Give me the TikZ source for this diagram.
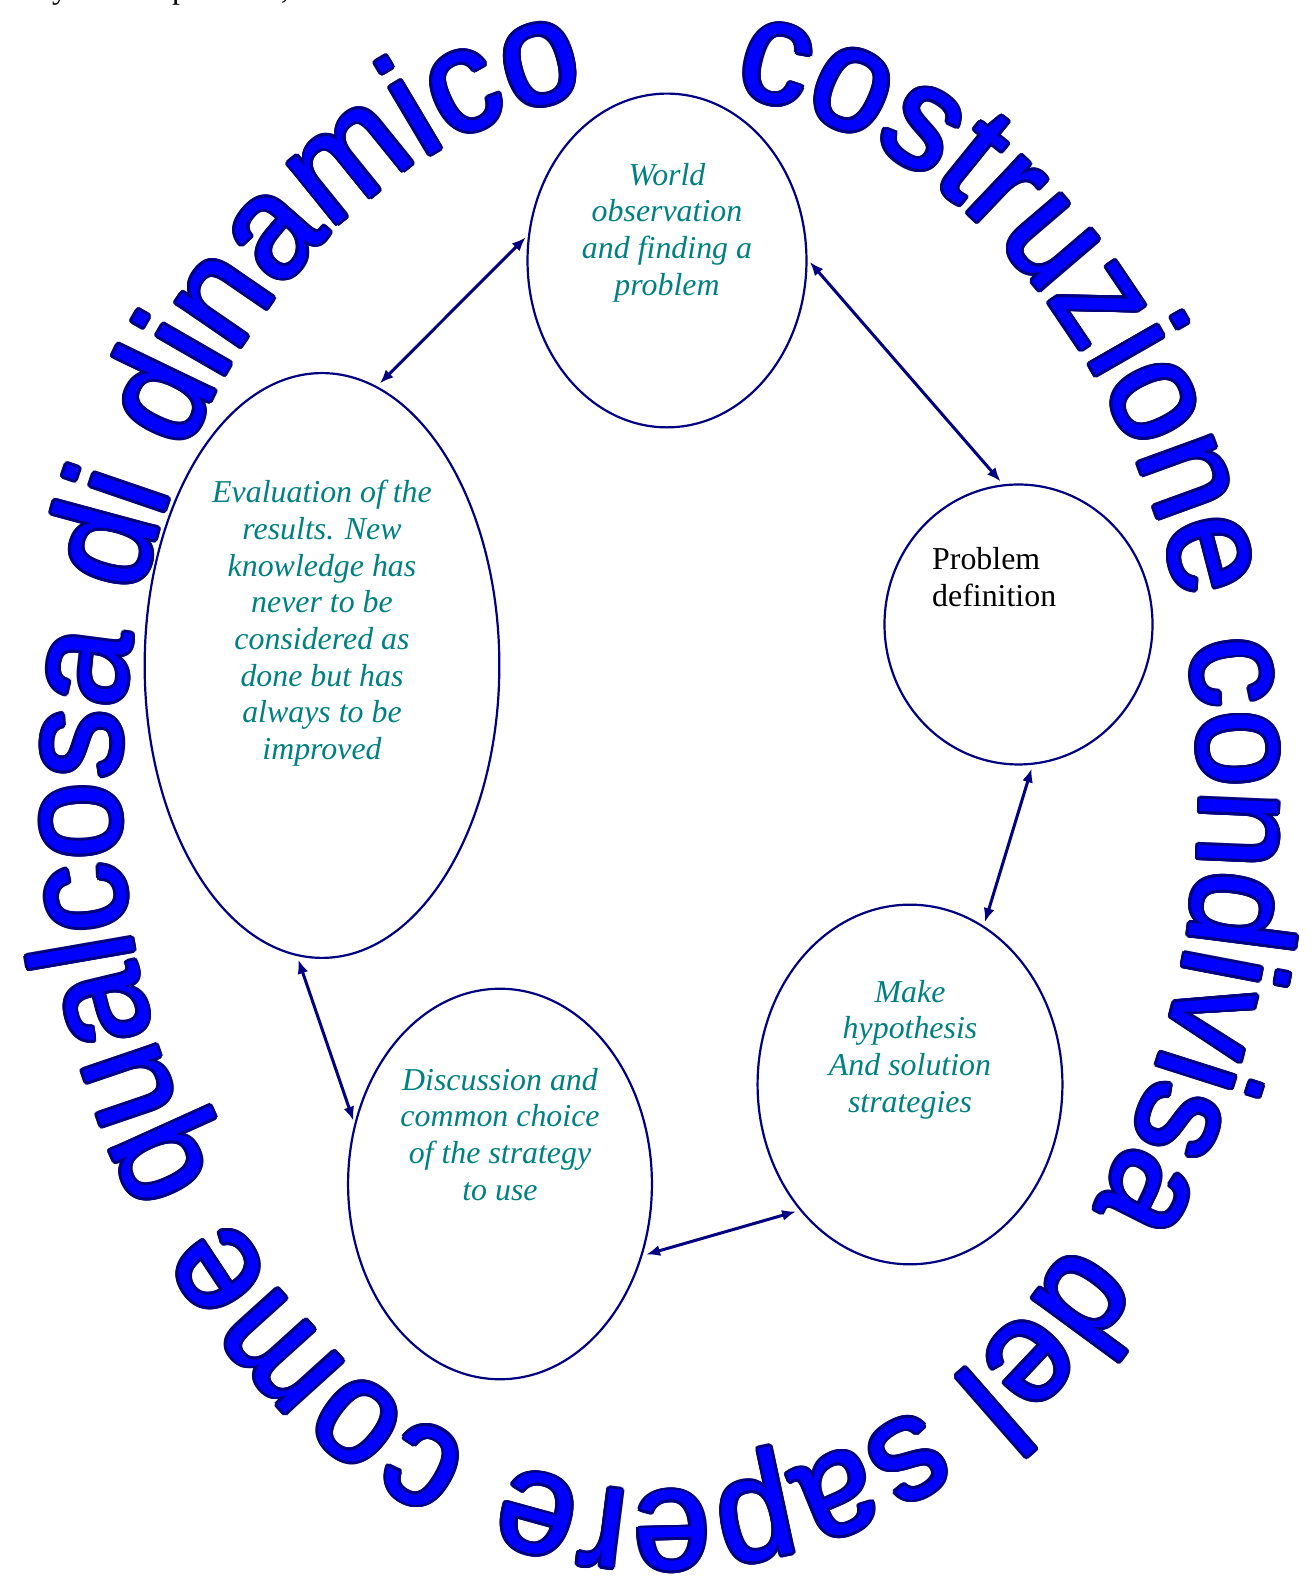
\documentclass[tikz,border=0pt]{standalone}
\usepackage{fontspec}
\setmainfont{Liberation Serif}
\newfontfamily\arcfont[FakeStretch=0.94]{Liberation Sans}
\usetikzlibrary{decorations.text,arrows.meta,shapes.geometric}
\definecolor{navyline}{RGB}{0,0,128}
\definecolor{arcblue}{RGB}{0,0,255}
\definecolor{tealtext}{RGB}{0,128,128}
\tikzset{
  bubble/.style={ellipse, draw=navyline, line width=2.2bp, inner sep=0pt, outer sep=0pt},
  stagetext/.style={font=\fontsize{32}{36.8}\selectfont\itshape, text=tealtext, align=center, inner sep=0pt},
  plaintext/.style={font=\fontsize{32}{36.8}\selectfont, text=black, align=left, inner sep=0pt},
  link/.style={draw=navyline, line width=3bp,
    {Latex[length=14bp,width=11bp]}-{Latex[length=14bp,width=11bp]},
    shorten <=5bp, shorten >=5bp},
  arcword/.style={shift={(660,799)}, decorate,
    decoration={text along path, text align=fit to path,
      text={|\arcfont\fontsize{148}{148}\selectfont\color{#1}|costruzione condivisa del sapere come qualcosa di dinamico}}}
}
\begin{document}
\begin{tikzpicture}[x=1bp,y=1bp]
\useasboundingbox (0,0) rectangle (1311,1589);

% cut-off line of text at the top edge
\node[plaintext, anchor=base west] (fragA) at (52,1590) {y};
\node[plaintext, anchor=base west] (fragB) at (172,1590) {p};
\node[plaintext, anchor=base west] (fragC) at (281,1590) {,};

% lettering around the cycle: navy outline copies, then blue face
\foreach \a in {0,22.5,...,337.5}{
  \path[shift={(\a:2.8)}, arcword=navyline]
    (82.3:540 and 702) arc[start angle=82.3, end angle=-262.3, x radius=540, y radius=702];
}
\path[arcword=arcblue]
  (82.3:540 and 702) arc[start angle=82.3, end angle=-262.3, x radius=540, y radius=702];

% stages
\node[bubble, minimum width=280, minimum height=335] (world) at (667,1328.5) {};
\node[bubble, minimum width=269, minimum height=281] (probdef) at (1018.5,964.5) {};
\node[bubble, minimum width=356, minimum height=587] (eval) at (322,923.5) {};
\node[bubble, minimum width=306, minimum height=361] (hyp) at (910,504.5) {};
\node[bubble, minimum width=305, minimum height=392] (disc) at (500,405) {};

\node[stagetext] (worldtext) at (667,1356.5) {World\\observation\\and finding a\\problem};
\node[plaintext, anchor=west] (probtext) at (932,1011.6) {Problem\\definition};
\node[stagetext] (evaltext) at (322,965.5) {Evaluation of the\\results. New\\knowledge has\\never to be\\considered as\\done but has\\always to be\\improved};
\node[stagetext] (hyptext) at (910,539.6) {Make\\hypothesis\\And solution\\strategies};
\node[stagetext] (disctext) at (500,454.7) {Discussion and\\common choice\\of the strategy\\to use};

% two-way links
\draw[link] (world.169) -- (eval.79);
\draw[link] (world.1) -- (probdef.96);
\draw[link] (probdef.276) -- (hyp.65);
\draw[link] (hyp.229) -- (disc.333);
\draw[link] (disc.158) -- (eval.265);
\end{tikzpicture}
\end{document}
